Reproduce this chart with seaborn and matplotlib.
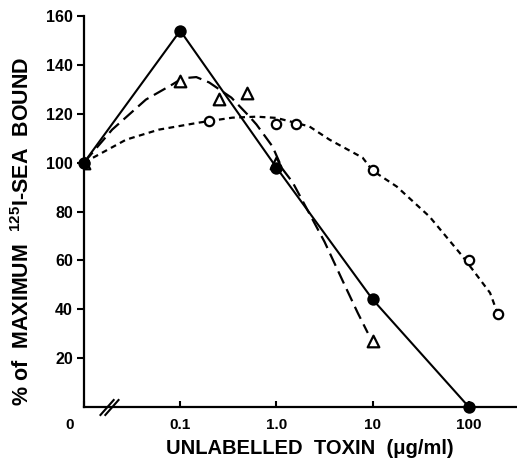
import numpy as np
import matplotlib
matplotlib.use("Agg")
import matplotlib.pyplot as plt
from matplotlib.path import Path
from matplotlib.transforms import ScaledTranslation
from matplotlib.ticker import NullLocator
import seaborn as sns

# -----------------------------------------------------------------
# data (concentration in ug/ml, 0 = no toxin)
# -----------------------------------------------------------------
filled_conc = [0, 0.1, 1.0, 10, 100]
filled_pct = [100, 154, 98, 44, 0]

tri_conc = [0, 0.1, 0.25, 0.5, 1.0, 10]
tri_pct = [100, 133.5, 126, 128.5, 100, 27]

open_conc = [0, 0.2, 1.0, 1.6, 10, 100, 200]
open_pct = [100, 117, 116, 116, 97, 60, 38]

# hand-drawn curves
dash_curve_conc = [0, 0.0196, 0.044, 0.083, 0.105, 0.147, 0.2, 0.34, 0.52, 0.62,
                   0.91, 1.15, 1.47, 3.16, 5.1, 7.0, 8.9]
dash_curve_pct = [100, 113.5, 125.8, 132, 134.5, 135, 132.8, 126.6, 119, 115.6,
                  106.6, 97.5, 92, 67.6, 50, 38.5, 30.3]

dot_curve_conc = [0, 0.0274, 0.060, 0.158, 0.348, 0.62, 1.0, 2.2, 3.56, 7.87,
                  10, 17.8, 39, 86.6, 166, 200]
dot_curve_pct = [100, 109.4, 113.5, 116.4, 118.4, 118.8, 118.3, 114.8, 109.4, 102,
                 96.7, 90.2, 77.9, 61.5, 46.7, 38]

x_ticks = [0, 0.1, 1.0, 10, 100]
x_ticklabels = ["0", "0.1", "1.0", "10", "100"]
y_ticks = [20, 40, 60, 80, 100, 120, 140, 160]

ZERO_POS = 0.01   # where "0" sits on the broken log axis
BREAK_POS = 0.018


def place(conc):
    c = np.asarray(conc, dtype=float)
    return np.where(c == 0, ZERO_POS, c)


sns.set_style("ticks", {"axes.edgecolor": "black", "text.color": "black",
                        "axes.labelcolor": "black", "xtick.color": "black",
                        "ytick.color": "black"})
plt.rcParams["font.family"] = ["Liberation Sans", "DejaVu Sans"]
plt.rcParams["mathtext.fontset"] = "custom"
plt.rcParams["mathtext.rm"] = "Liberation Sans"
plt.rcParams["mathtext.bf"] = "Liberation Sans:bold"

fig = plt.figure(figsize=(5.17, 4.59), dpi=100)
ax = fig.add_axes([84 / 517, 52 / 459, 433 / 517, 391 / 459])
ax.set_xscale("log")

# lines
sns.lineplot(x=place(filled_conc), y=filled_pct, ax=ax, color="black",
             linewidth=1.5, estimator=None, sort=False)
sns.lineplot(x=place(dash_curve_conc), y=dash_curve_pct, ax=ax, color="black",
             linewidth=1.6, estimator=None, sort=False)
ax.lines[-1].set_dashes((6.0, 2.8))
sns.lineplot(x=place(dot_curve_conc), y=dot_curve_pct, ax=ax, color="black",
             linewidth=1.6, estimator=None, sort=False)
ax.lines[-1].set_dashes((2.6, 2.0))

# markers
sns.scatterplot(x=place(open_conc), y=open_pct, ax=ax, marker="o", s=45,
                color="white", edgecolor="black", linewidth=1.6, zorder=4)
sns.scatterplot(x=place(tri_conc), y=tri_pct, ax=ax, marker="^", s=70,
                color="white", edgecolor="black", linewidth=1.6, zorder=4)
sns.scatterplot(x=place(filled_conc), y=filled_pct, ax=ax, marker="o", s=80,
                color="black", edgecolor="black", linewidth=0, zorder=5,
                clip_on=False)

ax.set_xlim(ZERO_POS, 10 ** 2.5)
ax.set_ylim(0, 160)

ax.set_xticks(place(x_ticks))
ax.set_xticklabels(x_ticklabels)
ax.xaxis.set_minor_locator(NullLocator())
ax.set_yticks(y_ticks)

ax.tick_params(axis="x", direction="in", length=4, width=1.5, pad=8,
               labelsize=11, colors="black")
ax.tick_params(axis="y", direction="out", length=5, width=1.5, pad=3,
               labelsize=11.5, colors="black")
for lab in ax.get_xticklabels() + ax.get_yticklabels():
    lab.set_fontweight("bold")
# the "0" label sits left of the origin
zero_lab = ax.get_xticklabels()[0]
zero_lab.set_transform(zero_lab.get_transform()
                       + ScaledTranslation(-0.14, 0, fig.dpi_scale_trans))

sns.despine(ax=ax)
for side in ["left", "bottom"]:
    ax.spines[side].set_linewidth(1.6)
    ax.spines[side].set_color("black")

# axis break "//"
brk = Path([(-1, -0.85), (0.5, 0.85), (-0.5, -0.85), (1, 0.85)],
           [Path.MOVETO, Path.LINETO, Path.MOVETO, Path.LINETO])
ax.plot([BREAK_POS], [0], marker=brk, markersize=14, markeredgewidth=1.5,
        color="black", clip_on=False, zorder=6)

ax.set_xlabel("UNLABELLED  TOXIN  (\u03bcg/ml)", fontsize=14.5,
              fontweight="bold", color="black")
ax.xaxis.set_label_coords(0.522, -0.107)
ax.xaxis.label.set_va("center")
ax.set_ylabel(r"% of  MAXIMUM  $\mathbf{^{125}}$I-SEA  BOUND", fontsize=15.5,
              fontweight="bold", color="black")
ax.yaxis.set_label_coords(-0.143, 0.45)
ax.yaxis.label.set_va("center")

plt.savefig("out.png", dpi=100)
plt.close()
